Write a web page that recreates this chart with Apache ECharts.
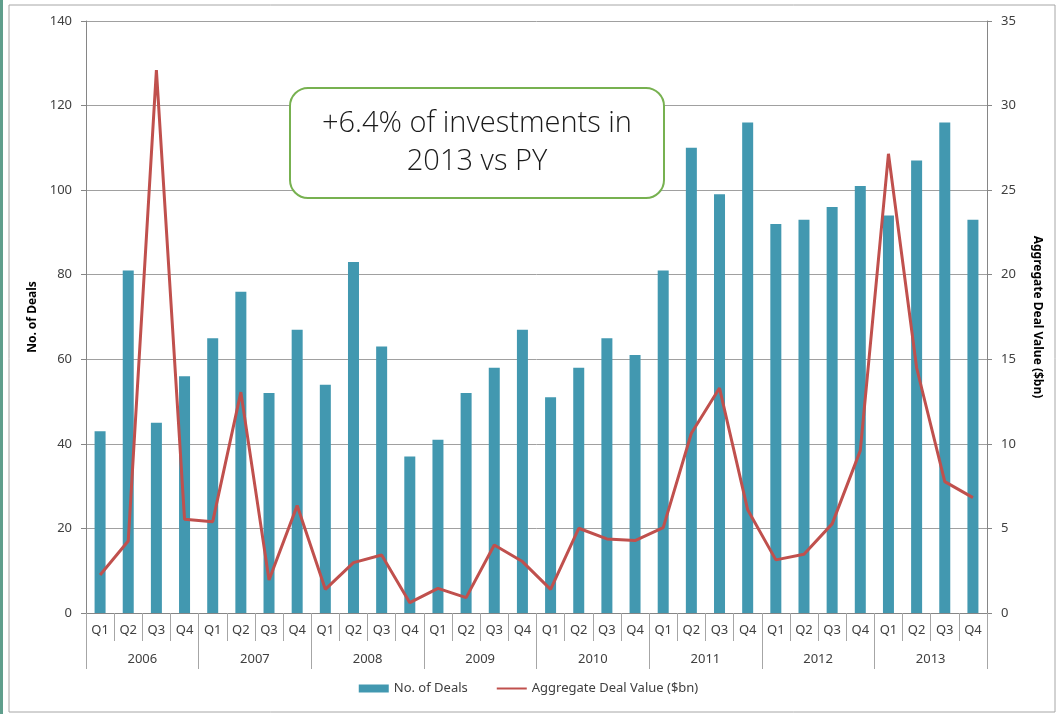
<!DOCTYPE html>
<html>
<head>
<meta charset="utf-8">
<script src="https://cdn.jsdelivr.net/npm/echarts@6/dist/echarts.min.js"></script>
<style>
  html, body { margin: 0; padding: 0; background: #fff; }
  #chart { width: 1057px; height: 714px; }
</style>
</head>
<body>
<div id="chart"></div>
<script>
// 数据
var years = ['2006', '2007', '2008', '2009', '2010', '2011', '2012', '2013'];
var quarters = ['Q1', 'Q2', 'Q3', 'Q4'];
var deals = [43, 81, 45, 56, 65, 76, 52, 67, 54, 83, 63, 37, 41, 52, 58, 67,
             51, 58, 65, 61, 81, 110, 99, 116, 92, 93, 96, 101, 94, 107, 116, 93];
var dealValue = [2.25, 4.26, 32.1, 5.54, 5.4, 13.06, 1.95, 6.35, 1.4, 2.98, 3.43, 0.61,
                 1.46, 0.91, 4.02, 3.04, 1.4, 5.01, 4.38, 4.28, 5.05, 10.63, 13.3, 6.1,
                 3.14, 3.47, 5.27, 9.6, 27.15, 14.5, 7.77, 6.82];

var qLabels = [];
years.forEach(function () {
    quarters.forEach(function (q) { qLabels.push(q); });
});

var font = 'Noto Sans';
var myChart = echarts.init(document.getElementById('chart'));
var option = {
    backgroundColor: '#fff',
    animation: false,
    textStyle: { fontFamily: font },
    grid: { left: 86, right: 70, top: 21, bottom: 101 },
    legend: {
        bottom: 14,
        left: 'center',
        itemGap: 28,
        itemWidth: 30,
        itemHeight: 8,
        textStyle: { fontSize: 13, color: '#404040', fontFamily: font },
        data: [
            { name: 'No. of Deals', icon: 'rect' },
            { name: 'Aggregate Deal Value ($bn)', itemStyle: { opacity: 0 } }
        ]
    },
    xAxis: [{
        type: 'category',
        data: qLabels,
        position: 'bottom',
        axisLine: { lineStyle: { color: '#868686' } },
        axisTick: { show: true, interval: 0, length: 28, lineStyle: { color: '#a6a6a6' } },
        axisLabel: { interval: 0, margin: 11, fontSize: 13, color: '#404040' }
    }, {
        type: 'category',
        data: years,
        position: 'bottom',
        axisLine: { lineStyle: { color: '#868686' } },
        axisTick: { show: true, interval: 0, length: 56, lineStyle: { color: '#a6a6a6' } },
        axisLabel: { interval: 0, margin: 40, fontSize: 13, color: '#404040' }
    }],
    yAxis: [{
        type: 'value',
        min: 0,
        max: 140,
        interval: 20,
        name: 'No. of Deals',
        nameLocation: 'middle',
        nameGap: 44,
        nameTextStyle: { fontSize: 12, fontWeight: 'bold', color: '#000' },
        axisLine: { show: true, lineStyle: { color: '#868686' } },
        axisTick: { show: true, length: 5, lineStyle: { color: '#868686' } },
        axisLabel: { margin: 14, fontSize: 13, color: '#404040' },
        splitLine: { lineStyle: { color: '#a0a0a0' } }
    }, {
        type: 'value',
        min: 0,
        max: 35,
        interval: 5,
        position: 'right',
        name: 'Aggregate Deal Value ($bn)',
        nameLocation: 'middle',
        nameGap: 44,
        nameRotate: -90,
        nameTextStyle: { fontSize: 12, fontWeight: 'bold', color: '#000' },
        axisLine: { show: true, lineStyle: { color: '#868686' } },
        axisTick: { show: true, length: 5, lineStyle: { color: '#868686' } },
        axisLabel: { margin: 14, fontSize: 13, color: '#404040' },
        splitLine: { show: false }
    }],
    series: [{
        name: 'No. of Deals',
        type: 'bar',
        xAxisIndex: 0,
        yAxisIndex: 0,
        barWidth: 11,
        itemStyle: { color: '#4298b0' },
        data: deals
    }, {
        name: 'Aggregate Deal Value ($bn)',
        type: 'line',
        xAxisIndex: 0,
        yAxisIndex: 1,
        symbol: 'none',
        lineStyle: { color: '#c0504d', width: 3 },
        itemStyle: { color: '#c0504d' },
        data: dealValue
    }],
    graphic: [{
        // 外框
        type: 'rect',
        shape: { x: 9, y: 5, width: 1046, height: 707 },
        style: { fill: 'none', stroke: '#a6a6a6', lineWidth: 1 },
        silent: true
    }, {
        type: 'rect',
        shape: { x: 0, y: 0, width: 3, height: 714 },
        style: { fill: '#5f9e8c' },
        silent: true
    }, {
        // 注释框
        type: 'rect',
        shape: { x: 290, y: 88, width: 374, height: 110, r: 18 },
        style: { fill: '#fff', stroke: '#77b150', lineWidth: 2 },
        z: 100
    }, {
        type: 'text',
        x: 477,
        y: 143,
        z: 101,
        style: {
            text: '+6.4% of investments in\n2013 vs PY',
            fill: '#1a1a1a',
            font: '300 29px "Open Sans"',
            lineHeight: 38,
            align: 'center',
            verticalAlign: 'middle'
        }
    }]
};
myChart.setOption(option);
</script>
</body>
</html>
